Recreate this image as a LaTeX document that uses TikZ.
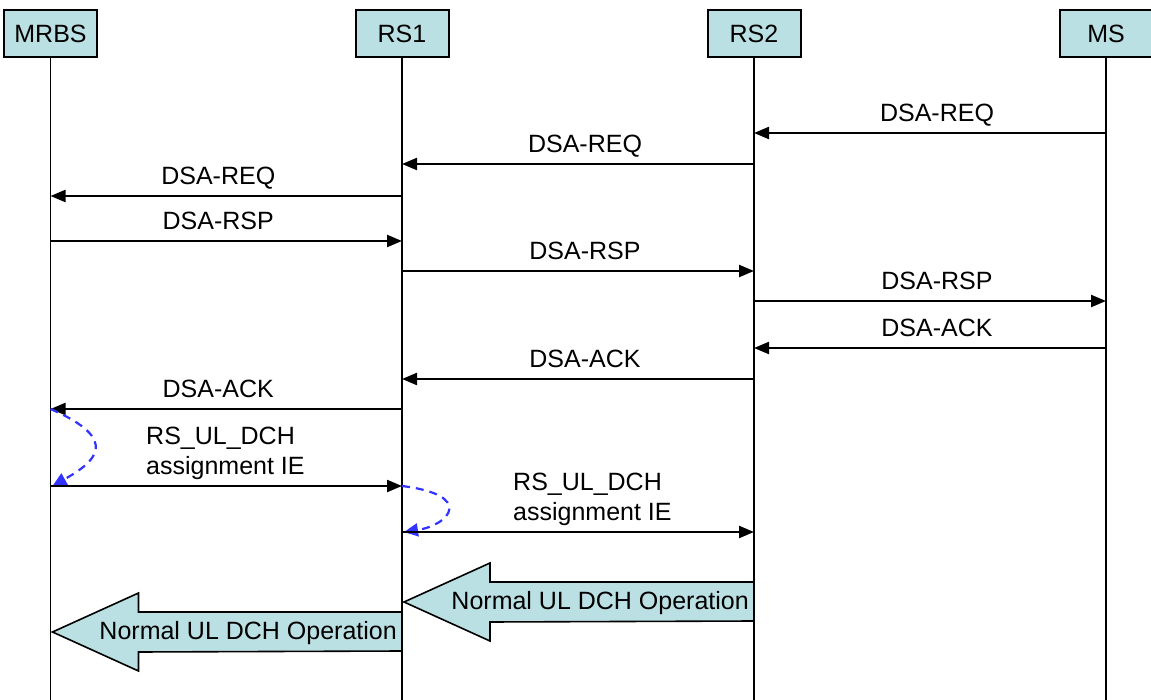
\documentclass[tikz,border=0pt]{standalone}
\usepackage{fontspec}
\setmainfont{Liberation Sans}
\usepackage{tikz}
\usetikzlibrary{arrows.meta,calc}
\definecolor{entitycyan}{RGB}{187,224,227}
\definecolor{reconfblue}{RGB}{51,51,255}

\begin{document}
\begin{tikzpicture}[x=1pt, y=-1pt,
  entity/.style={draw, line width=2pt, fill=entitycyan, minimum width=93pt, minimum height=47pt, inner sep=0pt, font=\fontsize{25}{30}\selectfont},
  lifeline/.style={line width=1.8pt},
  msg/.style={-{Triangle[length=15pt, width=12pt]}, line width=2.2pt},
  msglabel/.style={midway, anchor=base, yshift=11pt, inner sep=0pt, font=\fontsize{25}{30}\selectfont},
  ielabel/.style={anchor=south west, align=left, inner sep=0pt, font=\fontsize{25}{30}\selectfont},
  reconf/.style={-{Triangle[length=14pt, width=13pt]}, reconfblue, dash pattern=on 8pt off 6pt, line width=2.2pt},
  opsarrow/.style={draw, line width=1.6pt, fill=entitycyan, line join=miter},
  opslabel/.style={anchor=east, inner sep=0pt, font=\fontsize{25}{30}\selectfont}
]
\useasboundingbox (0,0) rectangle (1151,700);
% Entities
\node[entity] (mrbs) at (50.5,33.5) {MRBS};
\node[entity] (rs1) at (402,33.5) {RS1};
\node[entity] (rs2) at (754,33.5) {RS2};
\node[entity] (ms) at (1106,33.5) {MS};
% Lifelines
\draw[lifeline] (mrbs.south) -- (mrbs.south |- 0,700);
\draw[lifeline] (rs1.south) -- (rs1.south |- 0,700);
\draw[lifeline] (rs2.south) -- (rs2.south |- 0,700);
\draw[lifeline] (ms.south) -- (ms.south |- 0,700);
% DSA-REQ
\draw[msg] (ms |- 0,133) -- (rs2 |- 0,133) node[msglabel, xshift=7pt] {DSA-REQ};
\draw[msg] (rs2 |- 0,164) -- (rs1 |- 0,164) node[msglabel, xshift=7pt] {DSA-REQ};
\draw[msg] (rs1 |- 0,196) -- (mrbs |- 0,196) node[msglabel, xshift=-8pt] {DSA-REQ};
% DSA-RSP
\draw[msg] (mrbs |- 0,241) -- (rs1 |- 0,241) node[msglabel, xshift=-8pt] {DSA-RSP};
\draw[msg] (rs1 |- 0,271) -- (rs2 |- 0,271) node[msglabel, xshift=7pt] {DSA-RSP};
\draw[msg] (rs2 |- 0,301) -- (ms |- 0,301) node[msglabel, xshift=7pt] {DSA-RSP};
% DSA-ACK
\draw[msg] (ms |- 0,348) -- (rs2 |- 0,348) node[msglabel, xshift=7pt] {DSA-ACK};
\draw[msg] (rs2 |- 0,379) -- (rs1 |- 0,379) node[msglabel, xshift=7pt] {DSA-ACK};
\draw[msg] (rs1 |- 0,409) -- (mrbs |- 0,409) node[msglabel, xshift=-8pt] {DSA-ACK};
% RS_UL_DCH assignment
\draw[reconf] (mrbs |- 0,409) .. controls (122,440) and (95,462) .. ($(mrbs |- 0,486)+(2,0)$);
\draw[msg] (mrbs |- 0,486) -- (rs1 |- 0,486);
\node[ielabel] (ie1) at (146,480) {RS\_UL\_DCH\\assignment IE};
\draw[reconf] (rs1 |- 0,486) .. controls (475,495) and (450,525) .. ($(rs1 |- 0,532)+(2,0)$);
\draw[msg] (rs1 |- 0,532) -- (rs2 |- 0,532);
\node[ielabel] (ie2) at (513,526) {RS\_UL\_DCH\\assignment IE};
% Normal operation
\coordinate (op1tip) at ($(rs1 |- 0,602)+(2,0)$);
\draw[opsarrow] (rs2 |- 0,582) -- ($(op1tip)+(86,-20)$) -- ($(op1tip)+(86,-39)$) -- (op1tip)
  -- ($(op1tip)+(86,39)$) -- ($(op1tip)+(86,20)$) -- (rs2 |- 0,621) -- cycle;
\node[opslabel] (op1) at ($(rs2 |- 0,603)+(-5,0)$) {Normal UL DCH Operation};
\coordinate (op2tip) at ($(mrbs |- 0,632)+(2,0)$);
\draw[opsarrow] (rs1 |- 0,612) -- ($(op2tip)+(86,-20)$) -- ($(op2tip)+(86,-39)$) -- (op2tip)
  -- ($(op2tip)+(86,39)$) -- ($(op2tip)+(86,20)$) -- (rs1 |- 0,651) -- cycle;
\node[opslabel] (op2) at ($(rs1 |- 0,633)+(-5,0)$) {Normal UL DCH Operation};
\end{tikzpicture}
\end{document}
